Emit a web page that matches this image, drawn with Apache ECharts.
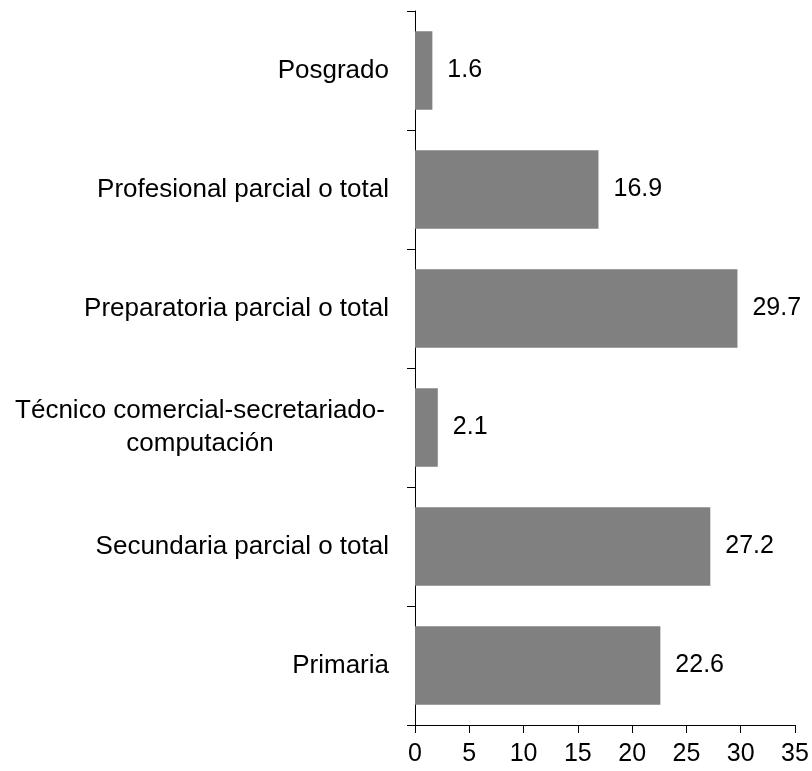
<!DOCTYPE html>
<html><head><meta charset="utf-8">
<script src="https://cdn.jsdelivr.net/npm/echarts@6/dist/echarts.min.js"></script>
<style>html,body{margin:0;padding:0;background:#fff}#c{width:812px;height:771px}</style>
</head><body><div id="c"></div>
<script>
const categories = ['Primaria','Secundaria parcial o total','Técnico comercial-secretariado-\ncomputación','Preparatoria parcial o total','Profesional parcial o total','Posgrado'];
const values = [22.6, 27.2, 2.1, 29.7, 16.9, 1.6];
const xTicks = [0, 35, 5];
const chart = echarts.init(document.getElementById('c'));
const font = 'Liberation Sans, Arial, sans-serif';
chart.setOption({
  animation: false,
  backgroundColor: '#ffffff',
  grid: {left: 415, right: 17, top: 11, bottom: 46, containLabel: false},
  xAxis: {
    type: 'value', min: xTicks[0], max: xTicks[1], interval: xTicks[2],
    axisLine: {show: true, lineStyle: {color: '#000', width: 1}},
    axisTick: {show: true, length: 8, lineStyle: {color: '#000'}},
    splitLine: {show: false},
    axisLabel: {color: '#000', fontSize: 25, fontFamily: font, margin: 17}
  },
  yAxis: {
    type: 'category', data: categories,
    axisLine: {show: true, lineStyle: {color: '#000', width: 1}},
    axisTick: {show: true, length: 8, lineStyle: {color: '#000'}},
    axisLabel: {
      color: '#000', fontSize: 26, fontFamily: font, margin: 26,
      formatter: function (v) {
        if (v.indexOf('\n') >= 0) {
          return v.split('\n').map(s => '{c|' + s + '}').join('\n');
        }
        return v;
      },
      rich: {c: {width: 378, align: 'center', fontSize: 26, fontFamily: font, color: '#000', lineHeight: 33}}
    }
  },
  series: [{
    type: 'bar', data: values, barCategoryGap: '34%',
    itemStyle: {color: '#808080'},
    label: {show: true, position: 'right', distance: 15, color: '#000', fontSize: 25, fontFamily: font}
  }]
});
</script></body></html>
